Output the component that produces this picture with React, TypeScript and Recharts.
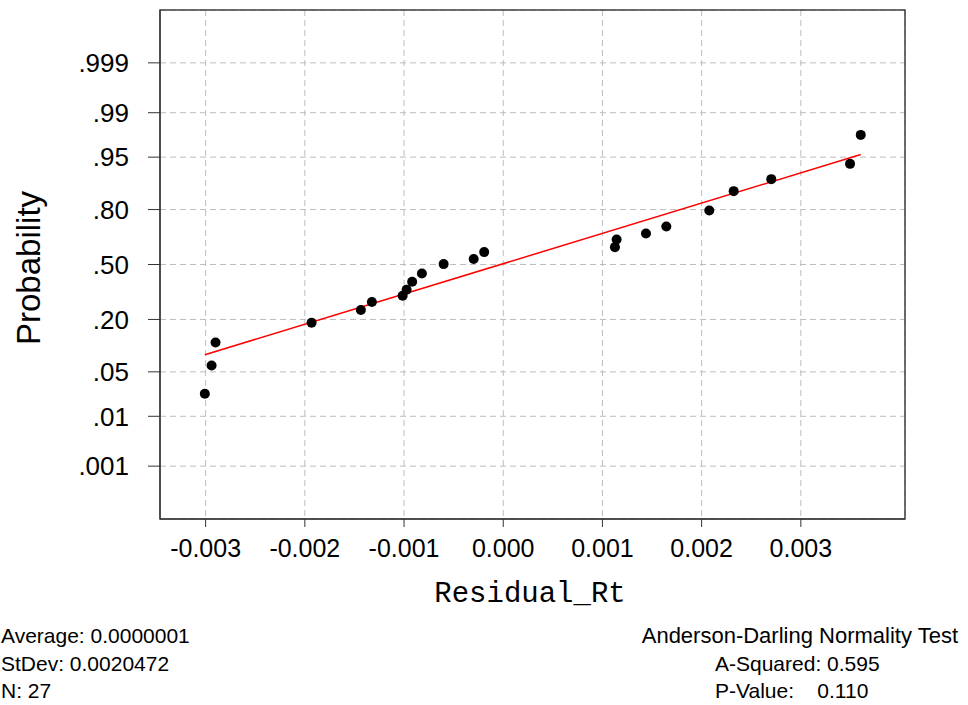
import { ScatterChart, Scatter, XAxis, YAxis, CartesianGrid, ReferenceArea } from 'recharts'

// residuals (x) and normal scores of their plotting positions (z)
const residuals = [
  -0.003008, -0.00294, -0.0029, -0.001932, -0.001435, -0.001324, -0.001014, -0.000974,
  -0.000918, -0.00082, -0.000601, -0.000298, -0.000192, 0.001126, 0.001143, 0.001439,
  0.001644, 0.002077, 0.002323, 0.002702, 0.003496, 0.003604,
]
const scores = [
  -1.98, -1.547, -1.194, -0.893, -0.698, -0.576, -0.479, -0.387,
  -0.265, -0.138, 0.006, 0.083, 0.19, 0.266, 0.383, 0.475,
  0.582, 0.827, 1.124, 1.308, 1.542, 1.986,
]

// fitted normal line ends
const fitX = [-0.003008, 0.003604]
const fitZ = [-1.383, 1.685]

const xTicks = [-0.003, -0.002, -0.001, 0, 0.001, 0.002, 0.003]
const probLabels = ['.001', '.01', '.05', '.20', '.50', '.80', '.95', '.99', '.999']
const probZ = [-3.09, -2.326, -1.645, -0.842, 0, 0.842, 1.645, 2.326, 3.09]

const statsLeft = ['Average: 0.0000001', 'StDev: 0.0020472', 'N: 27']
const statsRight = ['A-Squared: 0.595', 'P-Value:    0.110']

const FONT = '"Liberation Sans", Arial, sans-serif'

const points = residuals.map((x, i) => ({ x, z: scores[i] }))
const fitLine = fitX.map((x, i) => ({ x, z: fitZ[i] }))

const Dot = (p: any) => <circle cx={p.cx} cy={p.cy} r={5} fill="#000" />

export default function App() {
  return (
    <div style={{ position: 'absolute', left: 0, top: 0, width: 968, height: 705, background: '#fff' }}>
      <ScatterChart width={968} height={705} margin={{ top: 10, right: 63, bottom: 126, left: 100 }}>
        <CartesianGrid stroke="#bdbdbd" strokeDasharray="6 4" />
        <XAxis
          type="number"
          dataKey="x"
          domain={[-0.00346, 0.00405]}
          allowDataOverflow
          ticks={xTicks}
          tickFormatter={(v: number) => v.toFixed(3)}
          height={60}
          tickSize={8}
          tickMargin={12}
          stroke="#333"
          tick={{ fill: '#000', fontSize: 25, fontFamily: FONT }}
        />
        <YAxis
          type="number"
          dataKey="z"
          domain={[-3.9, 3.9]}
          allowDataOverflow
          ticks={probZ}
          tickFormatter={(v: number) => probLabels[probZ.indexOf(v)] ?? ''}
          width={60}
          tickSize={12}
          tickMargin={19}
          stroke="#333"
          tick={{ fill: '#000', fontSize: 26, fontFamily: FONT }}
        />
        <ReferenceArea x1={-0.00346} x2={0.00405} y1={-3.9} y2={3.9} fill="none" stroke="#404040" strokeWidth={1.5} />
        <Scatter data={fitLine} line={{ stroke: '#ff0000', strokeWidth: 1.5 }} shape={() => <g />} isAnimationActive={false} />
        <Scatter data={points} shape={Dot} isAnimationActive={false} />
      </ScatterChart>
      <svg width={968} height={705} style={{ position: 'absolute', left: 0, top: 0, pointerEvents: 'none' }}>
        <text x={28} y={268} transform="rotate(-90 28 268)" textAnchor="middle" dominantBaseline="central" fontSize={33} fontFamily={FONT}>
          Probability
        </text>
        <text x={530} y={602} textAnchor="middle" fontSize={29} fontFamily='"Liberation Mono", monospace'>
          Residual_Rt
        </text>
        {statsLeft.map((s, i) => (
          <text key={s} x={1} y={643 + i * 27.5} fontSize={21} fontFamily={FONT} style={{ whiteSpace: 'pre' }}>
            {s}
          </text>
        ))}
        <text x={958} y={643} textAnchor="end" fontSize={22} fontFamily={FONT}>
          Anderson-Darling Normality Test
        </text>
        {statsRight.map((s, i) => (
          <text key={s} x={715} y={670.5 + i * 27.5} fontSize={21} fontFamily={FONT} style={{ whiteSpace: 'pre' }}>
            {s}
          </text>
        ))}
      </svg>
    </div>
  )
}
